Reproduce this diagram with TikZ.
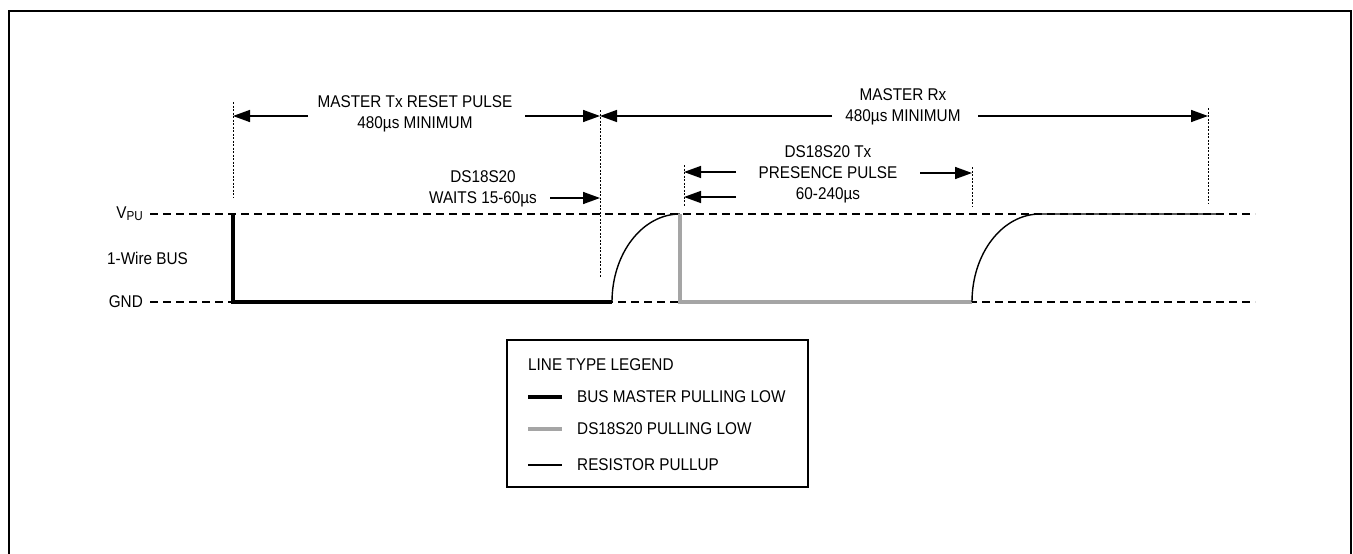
\documentclass[tikz,border=0pt]{standalone}
\usepackage{fontspec}
\setmainfont{Liberation Sans}[FakeStretch=0.9]
\usetikzlibrary{arrows.meta}
\definecolor{busgray}{RGB}{165,165,165}
\tikzset{
  dim/.style={-{Triangle[length=17pt,width=12pt]}, line width=1.5pt},
  guide/.style={line width=1pt, dash pattern=on 2pt off 1.5pt},
  level/.style={line width=1.2pt, dash pattern=on 8pt off 5pt},
  master/.style={line width=3.6pt},
  slave/.style={line width=3.6pt, busgray},
  pullup/.style={line width=1.4pt},
  lbl/.style={inner sep=0pt, align=center}
}
\begin{document}
\begin{tikzpicture}[x=1pt, y=-1pt, font=\fontsize{17}{21}\selectfont]
        \useasboundingbox (0,0) rectangle (1353,554);
        \draw[line width=2pt] (9,554) -- (9,11) -- (1351,11) -- (1351,554);
        \coordinate (vl) at (150,214); \coordinate (vr) at (1255,214);
        \coordinate (gl) at (150,302); \coordinate (gr) at (1255,302);
        \node[lbl, anchor=east] (vpu) at (143,214) {V\raisebox{-2pt}{\fontsize{13}{13}\selectfont PU}};
        \node[lbl, anchor=west] (bus) at (107,258) {1-Wire BUS};
        \node[lbl, anchor=east] (gnd) at (143,302) {GND};
        \draw[level] (vl) -- (vr);
        \draw[level] (gl) -- (gr);
        \coordinate (m0) at (233,214); \coordinate (m1) at (233,302); \coordinate (m2) at (612,302);
        \coordinate (s0) at (680,214); \coordinate (s1) at (680,302); \coordinate (s2) at (972,302);
        \coordinate (p0) at (1217,214);
        \draw[master] (m0) -- (m1) -- (m2);
        \draw[pullup] (m2) arc[start angle=180, end angle=90, x radius=68pt, y radius=88pt];
        \draw[slave] (s0) -- (s1) -- (s2);
        \draw[pullup] (s2) arc[start angle=180, end angle=90, x radius=68pt, y radius=88pt] -- (p0);
        \coordinate (g0a) at (233,102); \coordinate (g0b) at (233,197);
        \coordinate (g1a) at (600,110); \coordinate (g1b) at (600,277);
        \coordinate (g2a) at (684,165); \coordinate (g2b) at (684,207);
        \coordinate (g3a) at (972,167); \coordinate (g3b) at (972,207);
        \coordinate (g4a) at (1208,108); \coordinate (g4b) at (1208,203);
        \draw[guide] (g0a) -- (g0b);
        \draw[guide] (g1a) -- (g1b);
        \draw[guide] (g2a) -- (g2b);
        \draw[guide] (g3a) -- (g3b);
        \draw[guide] (g4a) -- (g4b);
        \node[lbl] (mtx) at (415,114) {MASTER Tx RESET PULSE\\480µs MINIMUM};
        \node[lbl] (mrx) at (903,107) {MASTER Rx\\480µs MINIMUM};
        \node[lbl] (wait) at (483,189) {DS18S20\\WAITS 15-60µs};
        \node[lbl] (pres) at (828,174) {DS18S20 Tx\\PRESENCE PULSE\\60-240µs};
        \coordinate (a1) at (308,116); \coordinate (a1t) at (233,116);
        \coordinate (a2) at (525,116); \coordinate (a2t) at (600,116);
        \coordinate (a3) at (832,116); \coordinate (a3t) at (600,116);
        \coordinate (a4) at (978,116); \coordinate (a4t) at (1208,116);
        \coordinate (a5) at (550,198); \coordinate (a5t) at (600,198);
        \coordinate (a6) at (736,172); \coordinate (a6t) at (684,172);
        \coordinate (a7) at (736,197); \coordinate (a7t) at (684,197);
        \coordinate (a8) at (920,173); \coordinate (a8t) at (972,173);
        \draw[dim] (a1) -- (a1t);
        \draw[dim] (a2) -- (a2t);
        \draw[dim] (a3) -- (a3t);
        \draw[dim] (a4) -- (a4t);
        \draw[dim] (a5) -- (a5t);
        \draw[dim] (a6) -- (a6t);
        \draw[dim] (a7) -- (a7t);
        \draw[dim] (a8) -- (a8t);
        \draw[line width=1.2pt] (507,340) rectangle (808,487);
        \node[lbl, anchor=west] (leg) at (528,365) {LINE TYPE LEGEND};
        \coordinate (k1a) at (528,397); \coordinate (k1b) at (562,397);
        \coordinate (k2a) at (528,429); \coordinate (k2b) at (562,429);
        \coordinate (k3a) at (528,465); \coordinate (k3b) at (562,465);
        \draw[master] (k1a) -- (k1b); \node[lbl, anchor=west] (l1) at (577,397) {BUS MASTER PULLING LOW};
        \draw[slave] (k2a) -- (k2b); \node[lbl, anchor=west] (l2) at (577,429) {DS18S20 PULLING LOW};
        \draw[pullup] (k3a) -- (k3b); \node[lbl, anchor=west] (l3) at (577,465) {RESISTOR PULLUP};
\end{tikzpicture}
\end{document}
